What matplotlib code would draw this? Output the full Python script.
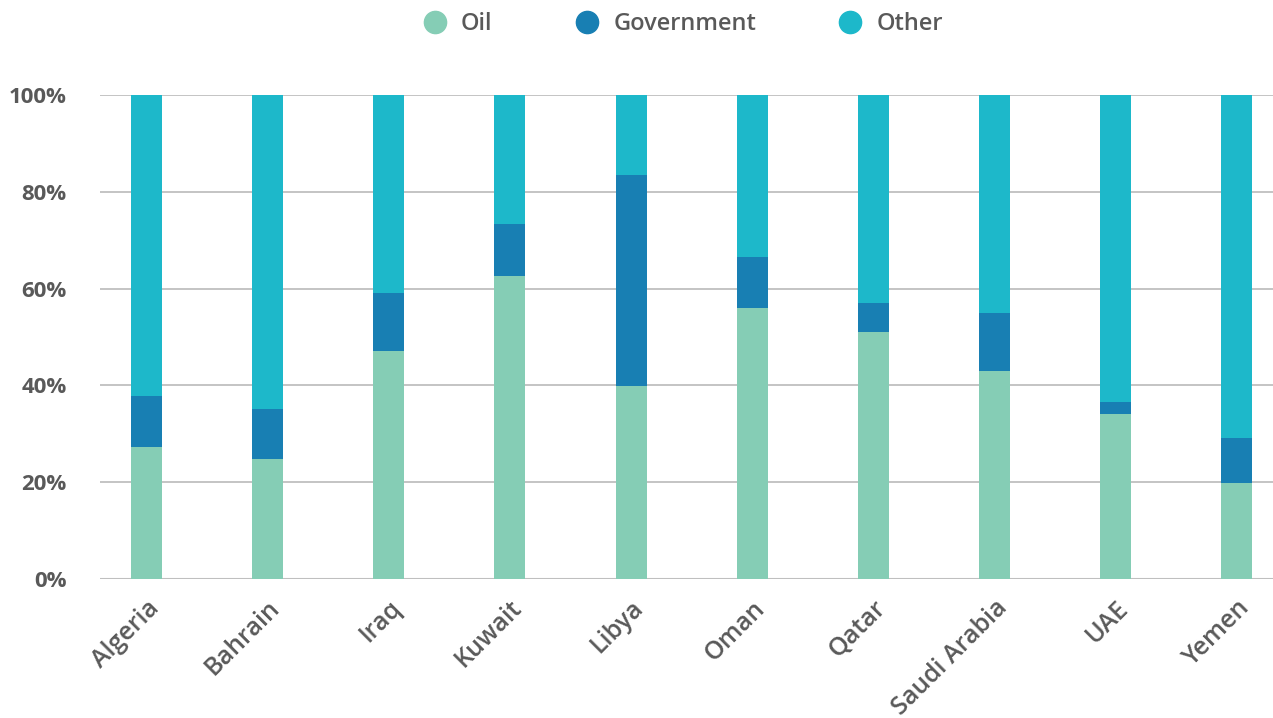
"""
Stacked share chart of oil / government / other for MENA countries
"""

import matplotlib
matplotlib.use("Agg")
from matplotlib import pyplot as plt
from matplotlib.lines import Line2D

plt.rcParams['font.family'] = ['Open Sans', 'DejaVu Sans']

countries = ["Algeria", "Bahrain", "Iraq", "Kuwait", "Libya",
             "Oman", "Qatar", "Saudi Arabia", "UAE", "Yemen"]
oil = [27.3, 24.8, 47.1, 62.6, 39.9, 56.0, 51.0, 43.0, 34.1, 19.8]
government = [10.5, 10.3, 12.0, 10.7, 43.6, 10.5, 6.0, 12.0, 2.5, 9.3]
other = [100 - o - g for o, g in zip(oil, government)]

series_names = ["Oil", "Government", "Other"]
colors = ["#85CDB5", "#187FB3", "#1DB8CA"]
text_color = "#595959"

fig = plt.figure(figsize=(12.73, 7.18), dpi=100)
ax = fig.add_axes([100 / 1273, 139 / 718, 1173 / 1273, 484 / 718])

x = range(len(countries))
width = 0.256
bottom = [0] * len(countries)
for vals, col in zip([oil, government, other], colors):
    ax.bar(x, vals, width, bottom=bottom, color=col, zorder=3)
    bottom = [b + v for b, v in zip(bottom, vals)]

ax.set_xlim(-0.384, 9.30)
ax.set_ylim(0, 100)
ax.set_yticks([0, 20, 40, 60, 80, 100])
ax.set_yticklabels([f"{t}%" for t in [0, 20, 40, 60, 80, 100]],
                   fontsize=16, fontweight="bold", color=text_color)
ax.set_xticks(list(x))
ax.set_xticklabels(countries, rotation=45, ha="right", rotation_mode="anchor",
                   fontsize=18, fontweight="semibold", color=text_color)
ax.tick_params(axis="both", length=0)
ax.tick_params(axis="x", pad=12)
ax.tick_params(axis="y", pad=24)

ax.yaxis.grid(True, color="#BFBFBF", linewidth=1.3, zorder=0)
ax.set_axisbelow(True)
for s in ax.spines.values():
    s.set_visible(False)
ax.axhline(0, color="#BFBFBF", linewidth=1.5, zorder=2)

handles = [Line2D([], [], marker="o", linestyle="", markersize=16,
                  markerfacecolor=c, markeredgecolor=c) for c in colors]
leg = fig.legend(handles, series_names, loc="center", bbox_to_anchor=(0.532, 0.966),
                 ncol=3, frameon=False, fontsize=17, handletextpad=0.1,
                 columnspacing=3.0)
for t in leg.get_texts():
    t.set_color(text_color)
    t.set_fontweight("semibold")

fig.savefig("out.png", dpi=100)
